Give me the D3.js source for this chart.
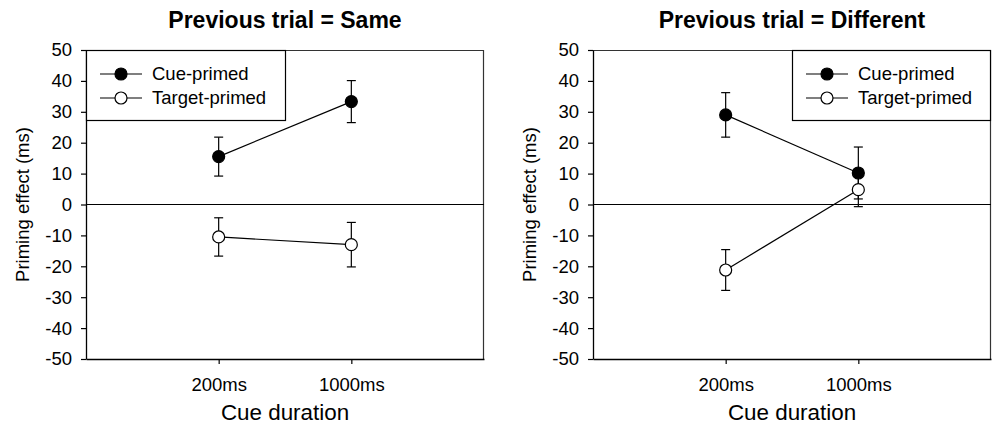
<!DOCTYPE html>
<html>
<head>
<meta charset="utf-8">
<script src="https://cdn.jsdelivr.net/npm/d3@7/dist/d3.min.js"></script>
<style>
  html, body { margin: 0; padding: 0; background: #fff; }
  svg { display: block; }
  text { font-family: "Liberation Sans", Arial, Helvetica, sans-serif; fill: #000; }
</style>
</head>
<body>
<svg id="chart" width="992" height="429"></svg>
<script>
// ---- Data ----
const categories = ["200ms", "1000ms"];
const yTicks = [-50, -40, -30, -20, -10, 0, 10, 20, 30, 40, 50];
const seriesNames = ["Cue-primed", "Target-primed"];
const panelTitles = ["Previous trial = Same", "Previous trial = Different"];

// Previous trial = Same
const sameCue = [15.5, 33.3];
const sameCueErr = [6.3, 6.8];
const sameTarget = [-10.5, -13.0];
const sameTargetErr = [6.2, 7.2];

// Previous trial = Different
const diffCue = [29.0, 10.2];
const diffCueErr = [7.2, 8.4];
const diffTarget = [-21.2, 4.8];
const diffTargetErr = [6.6, 5.5];

const panels = [
  { title: panelTitles[0], series: [
      { name: seriesNames[0], values: sameCue, err: sameCueErr, fill: "#000" },
      { name: seriesNames[1], values: sameTarget, err: sameTargetErr, fill: "#fff" } ],
    legend: "left" },
  { title: panelTitles[1], series: [
      { name: seriesNames[0], values: diffCue, err: diffCueErr, fill: "#000" },
      { name: seriesNames[1], values: diffTarget, err: diffTargetErr, fill: "#fff" } ],
    legend: "right" }
];

// ---- Layout ----
const svg = d3.select("#chart");
const plotTop = 50, plotBottom = 359;
const panelX = [[86, 484], [593, 991]];
const y = d3.scaleLinear().domain([-50, 50]).range([plotBottom, plotTop]);

panels.forEach((p, pi) => {
  const [x0, x1] = panelX[pi];
  const x = d3.scaleLinear().domain([0, categories.length + 1]).range([x0, x1]);
  const g = svg.append("g");

  // frame (top & right)
  g.append("line").attr("x1", x0).attr("x2", x1).attr("y1", plotTop + 0.5).attr("y2", plotTop + 0.5)
    .attr("stroke", "#333").attr("stroke-width", 1.2);
  g.append("line").attr("x1", x1 - 0.5).attr("x2", x1 - 0.5).attr("y1", plotTop).attr("y2", plotBottom)
    .attr("stroke", "#333").attr("stroke-width", 1.2);

  // y axis
  const ya = g.append("g").attr("transform", `translate(${x0},0)`)
    .call(d3.axisLeft(y).tickValues(yTicks).tickFormat((d) => String(d))
      .tickSize(5).tickPadding(9).tickSizeOuter(0));
  ya.select(".domain").attr("stroke", "#000").attr("stroke-width", 1.3);
  ya.selectAll(".tick line").attr("stroke", "#000").attr("stroke-width", 1.2);
  ya.selectAll(".tick text").attr("font-size", 18.5).attr("font-family", '"Liberation Sans", Arial, sans-serif');

  // x axis
  const xa = g.append("g").attr("transform", `translate(0,${plotBottom})`)
    .call(d3.axisBottom(x).tickValues(categories.map((c, i) => i + 1))
      .tickFormat((d) => categories[d - 1]).tickSize(5).tickPadding(13.5).tickSizeOuter(0));
  xa.select(".domain").attr("stroke", "#000").attr("stroke-width", 1.3);
  xa.selectAll(".tick line").attr("stroke", "#000").attr("stroke-width", 1.2);
  xa.selectAll(".tick text").attr("font-size", 18.5).attr("font-family", '"Liberation Sans", Arial, sans-serif');

  // zero line
  g.append("line").attr("x1", x0).attr("x2", x1).attr("y1", y(0)).attr("y2", y(0))
    .attr("stroke", "#000").attr("stroke-width", 1.2);

  // title
  g.append("text").attr("x", (x0 + x1) / 2).attr("y", 27.5).attr("text-anchor", "middle")
    .attr("font-size", 23).attr("font-weight", "bold").text(p.title);

  // axis labels
  g.append("text").attr("x", (x0 + x1) / 2).attr("y", 420).attr("text-anchor", "middle")
    .attr("font-size", 22.4).text("Cue duration");
  g.append("text").attr("transform", `translate(${x0 - 57},${(plotTop + plotBottom) / 2}) rotate(-90)`)
    .attr("text-anchor", "middle").attr("font-size", 18.5).text("Priming effect (ms)");

  // series
  const line = d3.line().x((d, i) => x(i + 1)).y((d) => y(d));
  p.series.forEach((s) => {
    const sg = g.append("g");
    sg.append("path").attr("d", line(s.values)).attr("fill", "none")
      .attr("stroke", "#000").attr("stroke-width", 1.2);
    s.values.forEach((v, i) => {
      const cx = x(i + 1);
      const lo = y(v - s.err[i]), hi = y(v + s.err[i]);
      sg.append("line").attr("x1", cx).attr("x2", cx).attr("y1", lo).attr("y2", hi)
        .attr("stroke", "#000").attr("stroke-width", 1.2);
      [lo, hi].forEach((yy) => sg.append("line").attr("x1", cx - 4.5).attr("x2", cx + 4.5)
        .attr("y1", yy).attr("y2", yy).attr("stroke", "#000").attr("stroke-width", 1.2));
    });
  });
  p.series.forEach((s) => {
    g.selectAll(null).data(s.values).enter().append("circle")
      .attr("cx", (d, i) => x(i + 1)).attr("cy", (d) => y(d)).attr("r", 6)
      .attr("fill", s.fill).attr("stroke", "#000").attr("stroke-width", 1.2);
  });

  // legend
  const lx0 = p.legend === "left" ? x0 : 792;
  const lx1 = p.legend === "left" ? 286 : x1;
  const lg = g.append("g");
  lg.append("rect").attr("x", lx0 + 0.5).attr("y", plotTop + 0.5).attr("width", lx1 - lx0 - 1)
    .attr("height", 70).attr("fill", "#fff").attr("stroke", "#000").attr("stroke-width", 1.2);
  const rowsY = [74, 98];
  p.series.forEach((s, i) => {
    const sx = lx0 + 14;
    lg.append("line").attr("x1", sx).attr("x2", sx + 42).attr("y1", rowsY[i]).attr("y2", rowsY[i])
      .attr("stroke", "#000").attr("stroke-width", 1.2);
    lg.append("circle").attr("cx", sx + 21).attr("cy", rowsY[i]).attr("r", 6)
      .attr("fill", s.fill).attr("stroke", "#000").attr("stroke-width", 1.2);
    lg.append("text").attr("x", sx + 52).attr("y", rowsY[i]).attr("dy", "0.35em")
      .attr("font-size", 18.5).text(s.name);
  });
});
</script>
</body>
</html>
